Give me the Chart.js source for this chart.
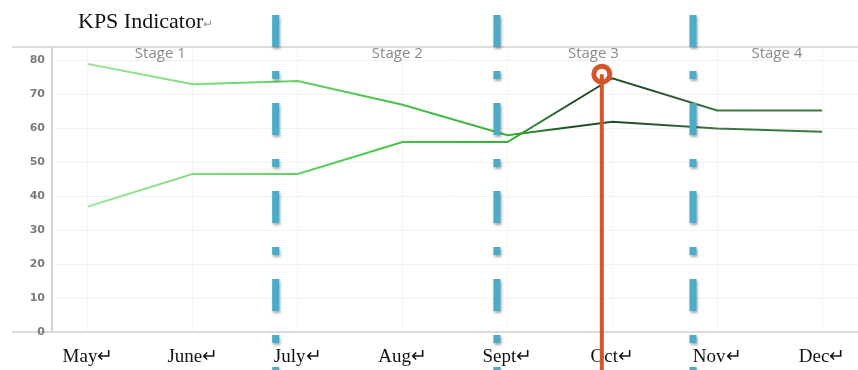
<!DOCTYPE html>
<html><head><meta charset="utf-8">
<script src="https://cdn.jsdelivr.net/npm/chart.js@4.4.1/dist/chart.umd.min.js"></script>
<style>
html,body{margin:0;padding:0;background:#fff;}
#wrap{position:relative;width:858px;height:370px;}
#title{position:absolute;left:78px;top:8px;font-family:'Liberation Serif','Times New Roman',serif;font-size:22px;line-height:26px;color:#111;white-space:nowrap;}
#title span{color:#999;font-size:12px;}
canvas{display:block}
</style></head><body>
<div id="wrap"><canvas id="c" width="858" height="370"></canvas><div id="title">KPS Indicator<span>↵</span></div></div>
<script>
const months = ['May↵','June↵','July↵','Aug↵','Sept↵','Oct↵','Nov↵','Dec↵'];
const seriesA = [79, 73, 74, 67, 58, 62, 60, 59];
const seriesB = [37, 46.6, 46.6, 56, 56, 74.8, 65.3, 65.3];
const yTicks = [0, 10, 20, 30, 40, 50, 60, 70, 80];
const yMax = 84;
const stageLabels = ['Stage 1', 'Stage 2', 'Stage 3', 'Stage 4'];
const stagePos = [0.69, 2.95, 4.82, 6.57];
const stageY = 82;
const dividerPos = [1.79, 3.90, 5.77];
const pointer = { x: 4.9, y: 76 };

function lineGradient(ctx) {
  const chart = ctx.chart;
  const a = chart.chartArea;
  if (!a) return '#44bb44';
  const xs = chart.scales.x;
  const g = chart.ctx.createLinearGradient(a.left, 0, a.right, 0);
  const f = v => Math.min(1, Math.max(0, (xs.getPixelForValue(v) - a.left) / (a.right - a.left)));
  g.addColorStop(f(0), '#9ae89a');
  g.addColorStop(f(1.5), '#6fd86f');
  g.addColorStop(f(3), '#45c245');
  g.addColorStop(f(4), '#38b238');
  g.addColorStop(f(4.6), '#1f4a22');
  g.addColorStop(f(5.3), '#25502a');
  g.addColorStop(f(6), '#3c7644');
  g.addColorStop(1, '#3f7a48');
  return g;
}

const overlay = {
  id: 'overlay',
  afterDatasetsDraw(chart) {
    const c = chart.ctx, xs = chart.scales.x, ys = chart.scales.y, a = chart.chartArea;
    c.save();
    // stage labels
    c.font = '15px "Open Sans", sans-serif';
    c.fillStyle = '#8a8a8a';
    c.textAlign = 'center';
    c.textBaseline = 'middle';
    stageLabels.forEach((t, i) => c.fillText(t, xs.getPixelForValue(stagePos[i]), ys.getPixelForValue(stageY)));
    // dividers
    c.strokeStyle = '#4BACC6';
    c.lineWidth = 7;
    c.setLineDash([32, 24, 8, 24]);
    c.shadowColor = 'rgba(0,0,0,0.35)';
    c.shadowBlur = 3;
    c.shadowOffsetX = 1;
    c.shadowOffsetY = 2;
    dividerPos.forEach(p => {
      const px = xs.getPixelForValue(p);
      c.beginPath();
      c.moveTo(px, a.top - 32);
      c.lineTo(px, chart.height + 10);
      c.stroke();
    });
    c.restore();
    // pointer
    c.save();
    const px = xs.getPixelForValue(pointer.x), py = ys.getPixelForValue(pointer.y);
    c.strokeStyle = '#D4572A';
    c.lineWidth = 4;
    c.beginPath();
    c.moveTo(px, py);
    c.lineTo(px, chart.height);
    c.stroke();
    c.lineWidth = 5;
    c.beginPath();
    c.arc(px, py, 8, 0, Math.PI * 2);
    c.stroke();
    c.restore();
  }
};

const edge = v => v === yMax || v === 0;

new Chart(document.getElementById('c'), {
  type: 'line',
  data: {
    datasets: [
      { data: seriesA.map((v, i) => ({ x: i, y: v })), borderColor: lineGradient, borderWidth: 2, pointRadius: 0, tension: 0 },
      { data: seriesB.map((v, i) => ({ x: i, y: v })), borderColor: lineGradient, borderWidth: 2, pointRadius: 0, tension: 0 }
    ]
  },
  options: {
    responsive: false,
    animation: false,
    layout: { padding: { left: 12, top: 47, right: 0, bottom: 0 } },
    plugins: { legend: { display: false }, tooltip: { enabled: false }, title: { display: false } },
    scales: {
      x: {
        type: 'linear',
        min: -0.343,
        max: 7.343,
        afterBuildTicks: s => { s.ticks = months.map((_, i) => ({ value: i })); },
        afterFit: s => { s.height = 38; s.paddingLeft = 0; s.paddingRight = 0; },
        ticks: {
          callback: v => months[v],
          autoSkip: false, maxRotation: 0, padding: 14,
          color: '#111',
          font: { family: '"Liberation Serif", "Times New Roman", serif', size: 19 }
        },
        grid: { color: '#f3f3f3', drawTicks: false },
        border: { color: '#dcdcdc', width: 2 }
      },
      y: {
        min: 0,
        max: yMax,
        afterBuildTicks: s => { s.ticks = yTicks.concat([yMax]).map(v => ({ value: v })); },
        afterFit: s => { s.width = 40; s.paddingTop = 0; s.paddingBottom = 0; },
        ticks: {
          callback: v => (v === yMax ? '' : String(v)),
          padding: -33,
          color: '#7a7a7a',
          font: { family: '"DejaVu Sans", sans-serif', size: 11, weight: 'bold' }
        },
        grid: {
          color: c => (c.tick && edge(c.tick.value) ? '#dcdcdc' : '#f3f3f3'),
          lineWidth: c => (c.tick && edge(c.tick.value) ? 2 : 1),
          tickColor: c => (c.tick && edge(c.tick.value) ? '#dcdcdc' : 'rgba(0,0,0,0)'),
          tickLength: 40,
          drawTicks: true
        },
        border: { color: '#d4d4d4', width: 2 }
      }
    }
  },
  plugins: [overlay]
});
</script>
</body></html>
